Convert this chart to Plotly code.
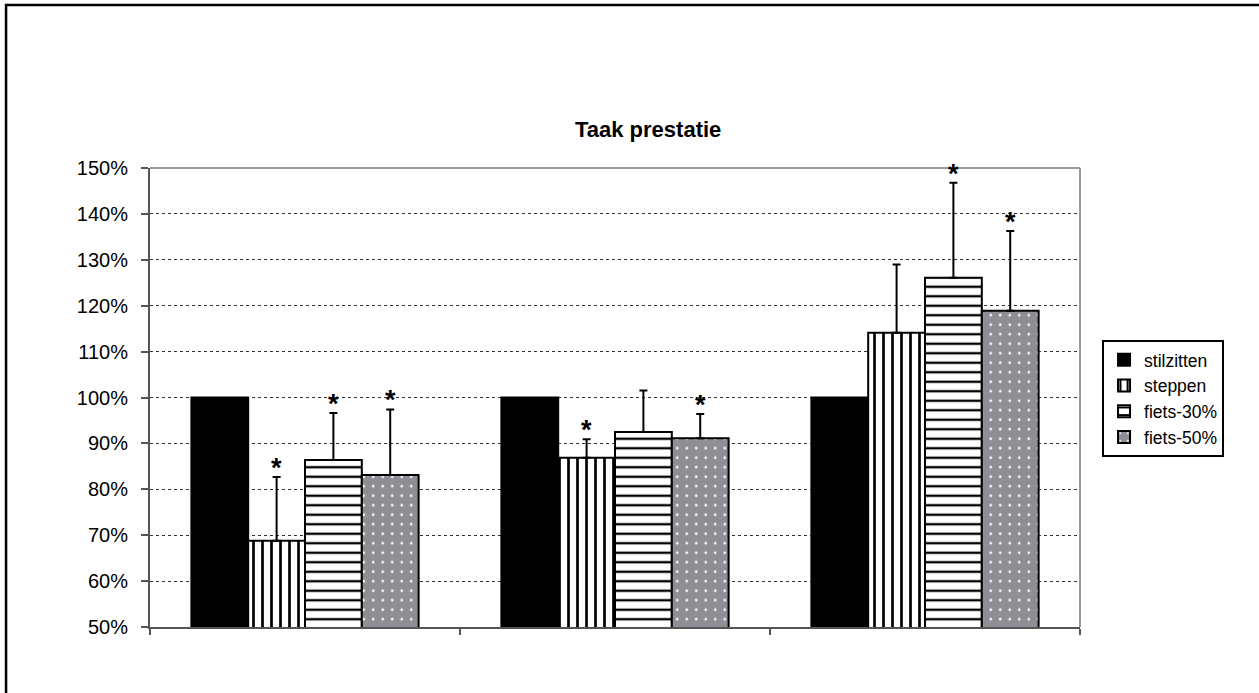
import plotly.graph_objects as go

groups = [0, 1, 2]
series = ["stilzitten", "steppen", "fiets-30%", "fiets-50%"]
values = {
    "stilzitten": [100, 100, 100],
    "steppen": [68.8, 86.9, 114.1],
    "fiets-30%": [86.4, 92.5, 126.1],
    "fiets-50%": [83.1, 91.1, 118.9],
}
err_plus = {
    "stilzitten": [0, 0, 0],
    "steppen": [13.9, 4.0, 14.9],
    "fiets-30%": [10.2, 9.0, 20.7],
    "fiets-50%": [14.3, 5.3, 17.4],
}
significant = {
    "stilzitten": [False, False, False],
    "steppen": [True, True, False],
    "fiets-30%": [True, False, True],
    "fiets-50%": [True, True, True],
}
y_ticks = [50, 60, 70, 80, 90, 100, 110, 120, 130, 140, 150]
y_tick_labels = [f"{t}%" for t in y_ticks]

styles = {
    "stilzitten": dict(color="black", pattern=dict(shape="")),
    "steppen": dict(color="white", pattern=dict(shape="|", fgcolor="black", bgcolor="white",
                                                 fillmode="replace", size=9, solidity=0.3)),
    "fiets-30%": dict(color="white", pattern=dict(shape="-", fgcolor="black", bgcolor="white",
                                                   fillmode="replace", size=9.5, solidity=0.25)),
    "fiets-50%": dict(color="#8e8e94", pattern=dict(shape=".", fgcolor="white", bgcolor="#8e8e94",
                                                     fillmode="replace", size=9.5, solidity=0.06)),
}

fig = go.Figure()
for s in series:
    st = styles[s]
    fig.add_trace(go.Bar(
        x=groups, y=values[s], name=s,
        marker=dict(color=st["color"], pattern=st["pattern"],
                    line=dict(color="black", width=2)),
        error_y=dict(type="data", symmetric=False, array=err_plus[s],
                     arrayminus=[0] * len(groups), color="black", thickness=2, width=4,
                     visible=any(e > 0 for e in err_plus[s])),
    ))

bar_w = 0.733 / len(series)
annotations = []
for i, s in enumerate(series):
    for g, v, e, sig in zip(groups, values[s], err_plus[s], significant[s]):
        if sig:
            annotations.append(dict(
                x=g + (i - 1.5) * bar_w, y=v + e, xref="x", yref="y",
                text="<b>*</b>", showarrow=False, yanchor="middle", yshift=9,
                font=dict(size=27, color="black", family="Liberation Sans"),
            ))

annotations.append(dict(
    x=0.536, y=1.083, xref="paper", yref="paper", text="<b>Taak prestatie</b>",
    showarrow=False, xanchor="center", yanchor="middle",
    font=dict(size=22, color="black", family="Liberation Sans"),
))

fig.update_layout(
    width=1259, height=693,
    margin=dict(l=150, r=179, t=168, b=66),
    paper_bgcolor="white", plot_bgcolor="white",
    barmode="group", bargap=0.267, bargroupgap=0,
    font=dict(family="Liberation Sans", size=20, color="black"),
    showlegend=True,
    legend=dict(x=1.0237, y=0.498, xanchor="left", yanchor="middle",
                bordercolor="black", borderwidth=2, bgcolor="white",
                font=dict(size=17.5, family="Liberation Sans"),
                itemwidth=30, tracegroupgap=0),
    annotations=annotations,
    shapes=[
        dict(type="line", xref="paper", yref="paper", x0=0, x1=1, y0=1, y1=1,
             line=dict(color="#999999", width=2)),
        dict(type="line", xref="paper", yref="paper", x0=1, x1=1, y0=0, y1=1,
             line=dict(color="#999999", width=2)),
        dict(type="rect", xref="paper", yref="paper", x0=-0.1548, x1=2, y0=-1, y1=1.355,
             line=dict(color="black", width=2.5), layer="above"),
    ],
)
fig.update_xaxes(
    range=[-0.5, 2.5], tickvals=[-0.5, 0.5, 1.5, 2.5], ticktext=["", "", "", ""],
    ticks="outside", ticklen=6, tickcolor="#555555", tickwidth=1.5,
    showline=True, linecolor="#555555", linewidth=2, showgrid=False, zeroline=False,
)
fig.update_yaxes(
    range=[50, 150], tickvals=y_ticks, ticktext=y_tick_labels,
    ticks="outside", ticklen=7, tickcolor="#555555", tickwidth=1.5,
    showline=True, linecolor="#555555", linewidth=2,
    showgrid=True, gridcolor="#333333", griddash="dot", gridwidth=1, zeroline=False,
    tickfont=dict(size=20), ticklabelstandoff=9,
)

fig.write_html("out.html", config={"displayModeBar": False},
               post_script="document.body.style.margin='0px';")
